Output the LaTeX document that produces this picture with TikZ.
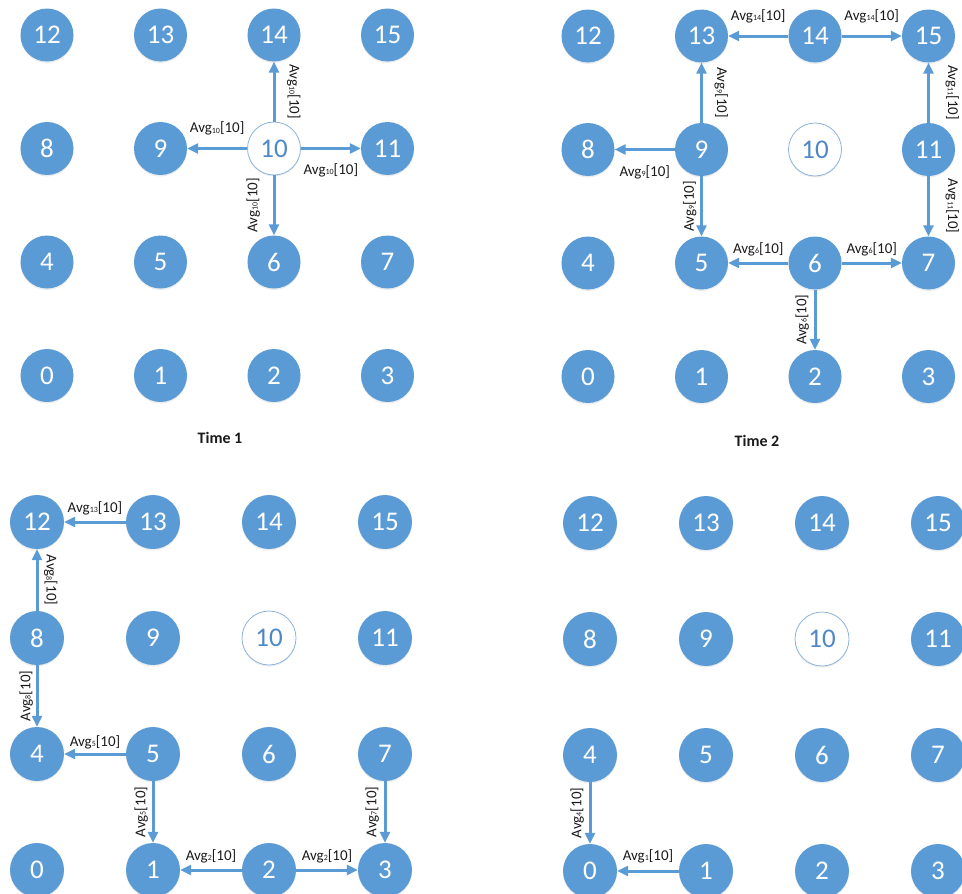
\documentclass[tikz,border=0pt]{standalone}
\usepackage{fontspec}
\setmainfont{Carlito}
\usetikzlibrary{arrows.meta,shadows}
\definecolor{nodeblue}{HTML}{5B9BD5}
\definecolor{idleline}{HTML}{8DB4DD}
\definecolor{idletext}{HTML}{4F88C6}
\definecolor{labtext}{HTML}{1A1A1A}
\newcommand\avgt[1]{Avg\raisebox{-0.3pt}{\fontsize{8}{8}\selectfont #1}[10]}
\begin{document}
\begin{tikzpicture}[x=1pt,y=-1pt,
  nodebase/.style={circle, inner sep=0pt, font=\fontsize{27}{27}\selectfont,
    drop shadow={shadow xshift=0pt, shadow yshift=-1.5pt, opacity=0.15}},
  busy/.style={nodebase, fill=nodeblue, text=white},
  idle/.style={nodebase, draw=idleline, line width=0.8pt, fill=white, text=idletext},
  arr/.style={draw=nodeblue, line width=3pt, -{Triangle[length=11pt,width=10pt]}},
  lab/.style={font=\fontsize{15}{15}\selectfont, text=labtext, inner sep=0pt, midway},
  ab/.style={lab, anchor=south, outer sep=#1},
  bw/.style={lab, anchor=north, outer sep=#1},
  lf/.style={lab, rotate=90, anchor=south, outer sep=#1},
  rt/.style={lab, rotate=-90, anchor=south, outer sep=#1},
  title/.style={font=\fontsize{16}{16}\selectfont\bfseries, text=labtext}]
\useasboundingbox (0,0) rectangle (962,894);

\foreach \q/\xo/\yo/\d/\r in {a/47/35/113.5/26.5, b/588/36/113.5/26.5, c/37/522/116/27, d/590/523/116/27}{
  \foreach \n in {0,...,15}{
    \pgfmathtruncatemacro\cc{mod(\n,4)}
    \pgfmathtruncatemacro\rw{3-int(\n/4)}
    \ifnum\n=10 \def\sty{idle}\else\def\sty{busy}\fi
    \node[\sty, minimum size={2*\r pt}] (\q\n) at (\xo+\cc*\d, \yo+\rw*\d) {\n};
  }
}

\node[title] (t1) at (220,438) {Time 1};
\node[title] (t2) at (757,441) {Time 2};

% Time 1
\draw[arr] (a10) -- (a9) node[ab=13pt]{\avgt{10}};
\draw[arr] (a10) -- (a11) node[bw=15pt]{\avgt{10}};
\draw[arr] (a10) -- (a14) node[rt=13pt]{\avgt{10}};
\draw[arr] (a10) -- (a6) node[lf=14pt]{\avgt{10}};

% Time 2
\draw[arr] (b14) -- (b13) node[ab=13pt]{\avgt{14}};
\draw[arr] (b14) -- (b15) node[ab=13pt]{\avgt{14}};
\draw[arr] (b9) -- (b13) node[rt=13pt]{\avgt{9}};
\draw[arr] (b9) -- (b8) node[bw=16pt]{\avgt{9}};
\draw[arr] (b9) -- (b5) node[lf=5pt]{\avgt{9}};
\draw[arr] (b11) -- (b15) node[rt=17pt]{\avgt{11}};
\draw[arr] (b11) -- (b7) node[rt=17pt]{\avgt{11}};
\draw[arr] (b6) -- (b5) node[ab=7pt]{\avgt{6}};
\draw[arr] (b6) -- (b7) node[ab=7pt]{\avgt{6}};
\draw[arr] (b6) -- (b2) node[lf=6pt]{\avgt{6}};

% Time 3
\draw[arr] (c13) -- (c12) node[ab=7pt]{\avgt{13}};
\draw[arr] (c8) -- (c12) node[rt=7pt]{\avgt{8}};
\draw[arr] (c8) -- (c4) node[lf=4pt]{\avgt{8}};
\draw[arr] (c5) -- (c4) node[ab=5pt]{\avgt{5}};
\draw[arr] (c5) -- (c1) node[lf=5pt]{\avgt{5}};
\draw[arr] (c2) -- (c1) node[ab=7pt]{\avgt{2}};
\draw[arr] (c2) -- (c3) node[ab=7pt]{\avgt{2}};
\draw[arr] (c7) -- (c3) node[lf=6pt]{\avgt{7}};

% Time 4
\draw[arr] (d4) -- (d0) node[lf=6pt]{\avgt{4}};
\draw[arr] (d1) -- (d0) node[ab=8pt]{\avgt{1}};
\end{tikzpicture}
\end{document}
